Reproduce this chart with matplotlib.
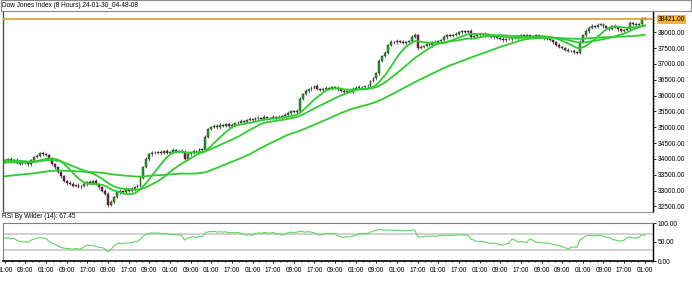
import numpy as np
import pandas as pd
import matplotlib
matplotlib.use("Agg")
import matplotlib.pyplot as plt
from matplotlib.patches import Rectangle
from matplotlib.ticker import MultipleLocator, FixedLocator, FuncFormatter

title = "Dow Jones Index (8 Hours) 24-01-30_04-48-08"
rsi_title = "RSI By Wilder (14): 67.45"
last_price = 38421.00

closes = [
    33950, 34000, 33920, 33980, 33880, 33850, 33900, 33870, 33830, 33950,
    34050, 34100, 34180, 34150, 34120, 34000, 33850, 33750, 33600, 33450,
    33300, 33250, 33200, 33150, 33180, 33100, 33150, 33200, 33280, 33250,
    33300, 33220, 33100, 33000, 32900, 32550, 32650, 32800, 32950, 33000,
    32950, 33050, 33000, 33050, 33100, 33150, 33400, 33750, 34000, 34150,
    34200, 34180, 34220, 34180, 34250, 34200, 34220, 34280, 34240, 34260,
    34230, 34000, 34150, 34200, 34250, 34220, 34300, 34280, 34700, 34950,
    35000, 35050, 35000, 35080, 35050, 35100, 35030, 35080, 35120, 35150,
    35200, 35180, 35220, 35250, 35230, 35280, 35300, 35260, 35320, 35300,
    35280, 35330, 35300, 35320, 35350, 35400, 35450, 35500, 35480, 35520,
    35900, 36050, 36150, 36200, 36250, 36300, 36200, 36180, 36200, 36250,
    36220, 36260, 36230, 36200, 36150, 36100, 36150, 36130, 36200, 36250,
    36280, 36260, 36300, 36290, 36450, 36550, 36700, 37100, 37250, 37350,
    37600, 37700, 37680, 37720, 37700, 37650, 37700, 37720, 37850, 37920,
    37500, 37550, 37580, 37620, 37600, 37700, 37680, 37720, 37750, 37850,
    37900, 37880, 37930, 37950, 38000, 38030, 38010, 38040, 37850, 37880,
    37900, 37920, 37950, 37900, 37880, 37850, 37870, 37820, 37800, 37750,
    37780, 37800, 37850, 37820, 37880, 37900, 37880, 37900, 37850, 37870,
    37900, 37880, 37850, 37820, 37800, 37750, 37700, 37600, 37550, 37500,
    37450, 37420, 37400, 37380, 37350, 37700, 37900, 38050, 38150, 38200,
    38180, 38230, 38250, 38200, 38150, 38100, 38200, 38180, 38100, 38050,
    38080, 38100, 38300, 38250, 38230, 38260, 38450, 38421,
]

opens = [
    33900, 33950, 34000, 33920, 33980, 33880, 33850, 33900, 33870, 33830,
    33950, 34050, 34100, 34180, 34150, 34120, 34000, 33850, 33750, 33600,
    33450, 33300, 33250, 33200, 33150, 33180, 33100, 33150, 33200, 33280,
    33250, 33300, 33220, 33100, 33000, 32900, 32550, 32650, 32800, 32950,
    33000, 32950, 33050, 33000, 33050, 33100, 33150, 33400, 33750, 34000,
    34150, 34200, 34180, 34220, 34180, 34250, 34200, 34220, 34280, 34240,
    34260, 34230, 34000, 34150, 34200, 34250, 34220, 34300, 34280, 34700,
    34950, 35000, 35050, 35000, 35080, 35050, 35100, 35030, 35080, 35120,
    35150, 35200, 35180, 35220, 35250, 35230, 35280, 35300, 35260, 35320,
    35300, 35280, 35330, 35300, 35320, 35350, 35400, 35450, 35500, 35480,
    35520, 35900, 36050, 36150, 36200, 36250, 36300, 36200, 36180, 36200,
    36250, 36220, 36260, 36230, 36200, 36150, 36100, 36150, 36130, 36200,
    36250, 36280, 36260, 36300, 36290, 36450, 36550, 36700, 37100, 37250,
    37350, 37600, 37700, 37680, 37720, 37700, 37650, 37700, 37720, 37850,
    37920, 37500, 37550, 37580, 37620, 37600, 37700, 37680, 37720, 37750,
    37850, 37900, 37880, 37930, 37950, 38000, 38030, 38010, 38040, 37850,
    37880, 37900, 37920, 37950, 37900, 37880, 37850, 37870, 37820, 37800,
    37750, 37780, 37800, 37850, 37820, 37880, 37900, 37880, 37900, 37850,
    37870, 37900, 37880, 37850, 37820, 37800, 37750, 37700, 37600, 37550,
    37500, 37450, 37420, 37400, 37380, 37350, 37700, 37900, 38050, 38150,
    38200, 38180, 38230, 38250, 38200, 38150, 38100, 38200, 38180, 38100,
    38050, 38080, 38100, 38300, 38250, 38230, 38260, 38450,
]

wick_up = [
    40, 30, 60, 20, 50, 30, 40, 60, 30, 50,
    30, 50, 40, 60, 30, 40, 50, 30, 40, 60,
    50, 30, 40, 60, 30, 50, 40, 60, 30, 40,
    40, 60, 30, 50, 40, 60, 50, 30, 40, 60,
    30, 50, 40, 60, 30, 50, 60, 40, 50, 30,
    40, 60, 30, 50, 40, 60, 30, 50, 40, 30,
    50, 40, 60, 30, 50, 40, 30, 60, 50, 40,
    30, 50, 40, 60, 30, 50, 40, 60, 30, 40,
    50, 30, 40, 60, 30, 50, 40, 30, 60, 40,
    30, 50, 40, 60, 30, 40, 50, 30, 40, 60,
    50, 40, 60, 30, 50, 40, 60, 30, 40, 50,
    30, 50, 40, 60, 30, 50, 40, 30, 60, 40,
    50, 30, 40, 60, 30, 50, 60, 50, 40, 60,
    40, 50, 30, 60, 40, 50, 30, 40, 60, 50,
    40, 50, 30, 60, 40, 30, 50, 40, 30, 60,
    40, 50, 30, 60, 40, 50, 30, 40, 50, 40,
    30, 50, 40, 60, 30, 50, 40, 30, 60, 40,
    50, 30, 40, 60, 30, 50, 40, 60, 30, 40,
    40, 60, 30, 50, 40, 30, 50, 40, 60, 30,
    50, 40, 30, 60, 40, 50, 60, 50, 40, 60,
    30, 50, 40, 60, 30, 50, 40, 60, 30, 50,
    40, 60, 50, 40, 60, 30, 50, 40,
]

wick_dn = [
    30, 50, 40, 60, 30, 40, 50, 30, 60, 40,
    50, 30, 40, 60, 30, 50, 40, 60, 30, 50,
    40, 60, 30, 50, 40, 30, 60, 40, 50, 30,
    40, 30, 60, 50, 40, 80, 50, 40, 30, 60,
    40, 30, 50, 40, 60, 30, 50, 40, 30, 60,
    50, 30, 40, 60, 30, 50, 40, 30, 60, 40,
    30, 60, 40, 50, 30, 40, 60, 30, 40, 50,
    40, 30, 60, 40, 50, 30, 40, 60, 30, 50,
    30, 50, 40, 30, 60, 40, 50, 30, 40, 60,
    40, 30, 60, 40, 50, 30, 40, 60, 30, 50,
    40, 50, 30, 60, 40, 50, 30, 40, 60, 30,
    50, 40, 30, 60, 40, 50, 30, 40, 60, 30,
    40, 60, 30, 50, 40, 30, 60, 40, 50, 30,
    40, 30, 60, 50, 40, 30, 60, 40, 50, 30,
    60, 40, 30, 50, 40, 60, 30, 50, 40, 30,
    50, 30, 40, 60, 30, 50, 40, 30, 60, 40,
    30, 50, 40, 60, 30, 40, 50, 30, 40, 60,
    40, 30, 60, 40, 50, 30, 40, 60, 30, 50,
    40, 60, 30, 50, 40, 30, 60, 40, 50, 30,
    40, 50, 30, 60, 40, 50, 30, 40, 60, 30,
    50, 40, 30, 60, 40, 50, 30, 40, 60, 30,
    40, 50, 30, 60, 40, 30, 50, 40,
]

rsi = [
    60, 62, 58, 60, 55, 52, 50, 51, 49, 55,
    58, 60, 62, 60, 59, 52, 47, 44, 40, 36,
    34, 33, 32, 31, 33, 31, 33, 38, 42, 40,
    42, 38, 36, 35, 32, 24, 30, 40, 45, 47,
    45, 48, 47, 49, 50, 52, 58, 66, 71, 73,
    74, 73, 74, 72, 73, 71, 70, 71, 68, 69,
    67, 55, 60, 62, 64, 62, 65, 64, 74, 77,
    77, 78, 76, 77, 76, 77, 74, 75, 74, 75,
    73, 70, 68, 69, 68, 72, 74, 73, 75, 74,
    73, 75, 72, 71, 68, 71, 74, 76, 75, 76,
    78, 77, 76, 77, 76, 74, 70, 68, 71, 73,
    72, 73, 71, 66, 63, 62, 64, 63, 66, 68,
    71, 72, 73, 72, 76, 79, 81, 83, 82, 81,
    82, 81, 80, 81, 80, 79, 80, 80, 81, 82,
    64, 63, 64, 66, 65, 66, 65, 66, 67, 68,
    68, 67, 68, 68, 69, 69, 68, 68, 58, 55,
    52, 51, 52, 49, 48, 46, 47, 45, 43, 42,
    45, 47, 58, 55, 50, 51, 50, 49, 58, 55,
    50, 49, 48, 47, 48, 46, 44, 42, 40, 38,
    35, 31, 36, 37, 36, 55, 60, 66, 68, 67,
    66, 67, 68, 65, 63, 62, 57, 55, 54, 52,
    55, 62, 63, 61, 60, 62, 69, 67.45,
]

# simple moving averages; the seed is the average level before the first bar
ma_periods = [10, 20, 50]
ma_seeds = [33950, 33880, 33440]

x_labels = ["01:00", "09:00", "01:00", "09:00", "17:00", "09:00", "17:00", "09:00",
            "01:00", "09:00", "01:00", "17:00", "01:00", "17:00", "09:00", "17:00",
            "09:00", "01:00", "09:00", "01:00", "17:00", "01:00", "17:00", "01:00",
            "09:00", "17:00", "09:00", "09:00", "01:00", "09:00", "17:00", "01:00"]
bars_per_label = 7

price_ticks = [32500, 33000, 33500, 34000, 34500, 35000, 35500, 36000, 36500, 37000, 37500, 38000]
rsi_ticks = [0, 50, 100]

n = len(closes)
assert len(opens) == n and len(wick_up) == n and len(wick_dn) == n and len(rsi) == n

o = np.array(opens, float)
c = np.array(closes, float)
hi = np.maximum(o, c) + np.array(wick_up, float)
lo = np.minimum(o, c) - np.array(wick_dn, float)
xs = np.arange(n)


def sma(vals, period, seed):
    ext = np.concatenate([np.full(period, float(seed)), vals])
    return pd.Series(ext).rolling(period).mean().to_numpy()[period:]


W, H = 692, 290
plt.rcParams["font.family"] = ["Liberation Sans", "DejaVu Sans"]
plt.rcParams["font.size"] = 4.8
FS = 4.8
fig = plt.figure(figsize=(W / 100, H / 100), dpi=100)


def rect(x0, y0, x1, y1):
    return [x0 / W, 1 - y1 / H, (x1 - x0) / W, (y1 - y0) / H]


# title box
fig.patches.append(Rectangle((0.5 / W, 1 - 11 / H), (W - 1.5) / W, 10.5 / H,
                             transform=fig.transFigure, fill=False,
                             edgecolor="#8a8a8a", lw=0.8))
fig.text(2 / W, 1 - 5.8 / H, title, va="center", ha="left", fontsize=4.7)

xlim = (-0.6, n + 1.8)

# main price panel
ax = fig.add_axes(rect(3, 11, 653, 212))
ax.set_xlim(*xlim)
ax.set_ylim(32322, 38674)

ax.vlines(xs, lo, hi, color="#2a2a2a", lw=0.5, zorder=1)
up = c >= o
body_bot = np.minimum(o, c)
body_h = np.maximum(np.abs(c - o), 10)
colors = np.where(up, "#22aa22", "#99104a")
ax.bar(xs, body_h, bottom=body_bot, width=0.62, color=colors,
       edgecolor="#1a1a1a", linewidth=0.3, zorder=2)

for p, s in zip(ma_periods, ma_seeds):
    ax.plot(xs, sma(c, p, s), color="#2ecc2e", lw=1.3, zorder=3)

ax.axhline(last_price, color="#d9a030", lw=1.2, zorder=4)

ax.spines["top"].set_visible(False)
ax.spines["left"].set_color("#505050")
ax.spines["left"].set_linewidth(1.0)
ax.spines["right"].set_color("#000000")
ax.spines["right"].set_linewidth(1.0)
ax.spines["bottom"].set_color("#909090")
ax.spines["bottom"].set_linewidth(0.8)

ax.set_xticks([])
ax.yaxis.tick_right()
ax.yaxis.set_major_locator(FixedLocator(price_ticks))
ax.yaxis.set_minor_locator(MultipleLocator(100))
ax.yaxis.set_major_formatter(FuncFormatter(lambda v, _: f"{v:.2f}"))
ax.tick_params(axis="y", which="major", length=1.8, width=0.6, pad=1.8, labelsize=FS)
ax.tick_params(axis="y", which="minor", length=1.0, width=0.5)
ax.annotate(f"{last_price:.2f}", xy=(1.0, last_price), xycoords=ax.get_yaxis_transform(),
            xytext=(3.4, 0), textcoords="offset points",
            va="center", ha="left", fontsize=FS,
            bbox=dict(boxstyle="square,pad=0.15", fc="#f7b430", ec="none"),
            zorder=5, annotation_clip=False)

# RSI panel
fig.text(2 / W, 1 - 217 / H, rsi_title, va="center", ha="left", fontsize=4.7)
ax2 = fig.add_axes(rect(3, 223, 653, 261))
ax2.set_xlim(*xlim)
ax2.set_ylim(0, 100)
ax2.axhline(70, color="#c8c8c8", lw=1.2, zorder=1)
ax2.axhline(30, color="#c8c8c8", lw=1.2, zorder=1)
ax2.plot(xs, rsi, color="#5fd65f", lw=0.8, zorder=2)
for side in ["top", "left"]:
    ax2.spines[side].set_color("#808080")
    ax2.spines[side].set_linewidth(0.8)
ax2.spines["right"].set_color("#000000")
ax2.spines["right"].set_linewidth(1.0)
ax2.spines["bottom"].set_color("#000000")
ax2.spines["bottom"].set_linewidth(1.2)
ax2.yaxis.tick_right()
ax2.set_yticks(rsi_ticks)
ax2.yaxis.set_major_formatter(FuncFormatter(lambda v, _: f"{v:.2f}"))
ax2.tick_params(axis="y", length=1.8, width=0.6, pad=1.8, labelsize=FS)

ax2.xaxis.set_major_locator(FixedLocator(np.arange(0, n, bars_per_label)))
ax2.set_xticklabels(x_labels)
ax2.xaxis.set_minor_locator(MultipleLocator(bars_per_label / 3))
ax2.tick_params(axis="x", which="major", length=1.6, width=0.6, pad=3.0, labelsize=FS)
ax2.tick_params(axis="x", which="minor", length=1.0, width=0.5)

fig.savefig("out.png", dpi=100)
